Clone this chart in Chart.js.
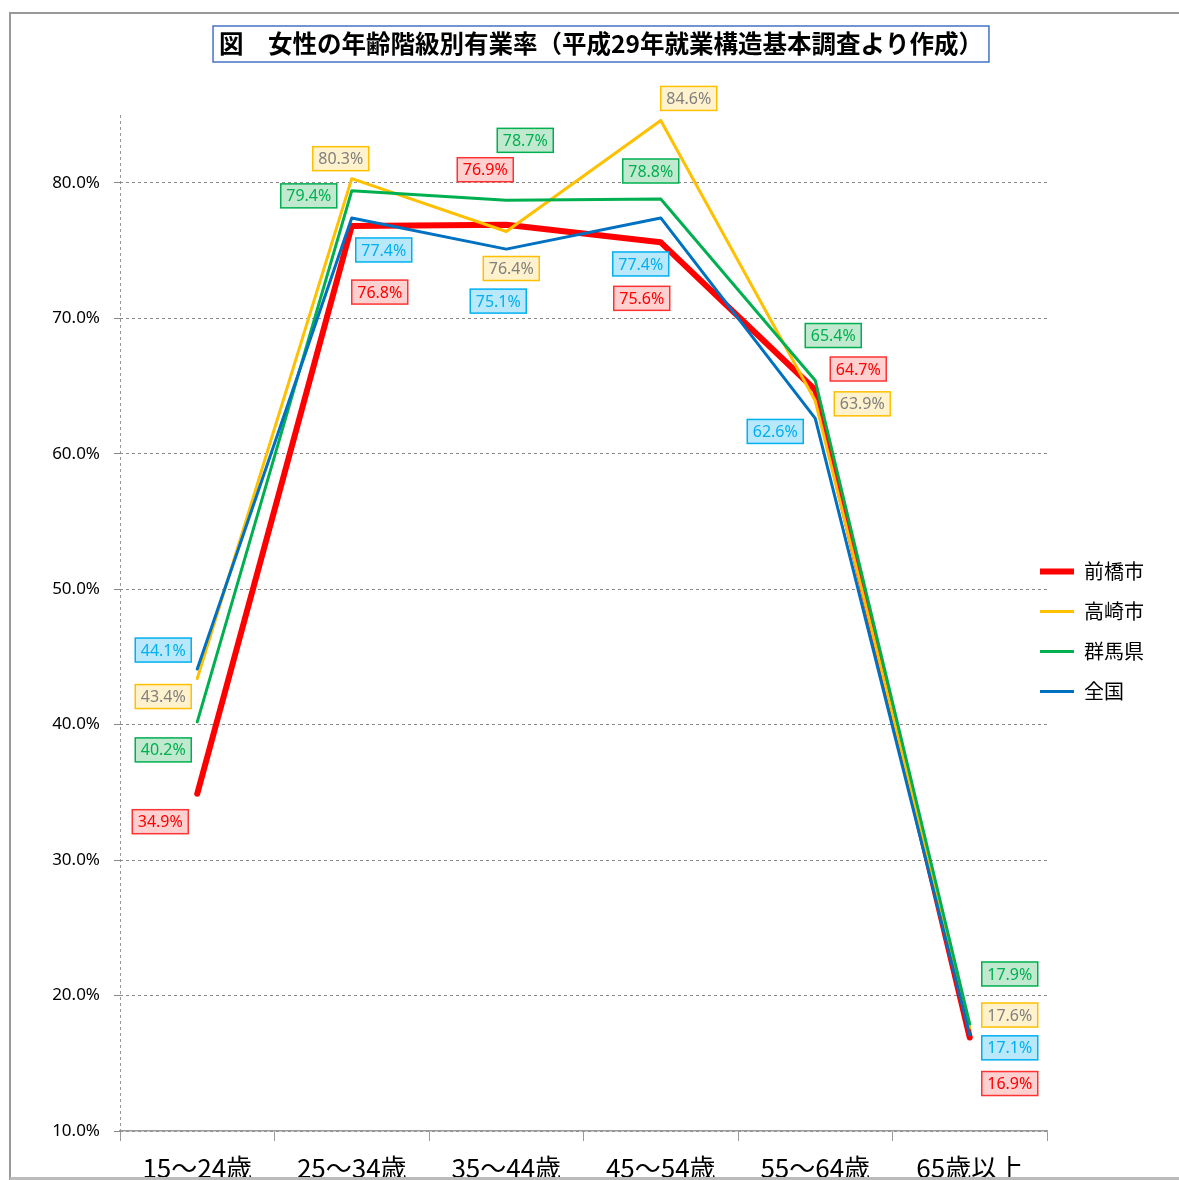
<!DOCTYPE html>
<html>
<head>
<meta charset="utf-8">
<script src="https://cdn.jsdelivr.net/npm/chart.js@4"></script>
<style>
  body { margin: 0; background: #fff; }
  canvas { display: block; }
</style>
</head>
<body>
<canvas id="chart" width="1179" height="1180"></canvas>
<script>
const categories = ['15～24歳', '25～34歳', '35～44歳', '45～54歳', '55～64歳', '65歳以上'];
const maebashi = [34.9, 76.8, 76.9, 75.6, 64.7, 16.9];
const takasaki = [43.4, 80.3, 76.4, 84.6, 63.9, 17.6];
const gunma    = [40.2, 79.4, 78.7, 78.8, 65.4, 17.9];
const zenkoku  = [44.1, 77.4, 75.1, 77.4, 62.6, 17.1];
const yTicks = [10, 20, 30, 40, 50, 60, 70, 80];
const titleText = '図　女性の年齢階級別有業率（平成29年就業構造基本調査より作成）';

const CJK = '"Noto Sans CJK JP", "Noto Sans", sans-serif';

// label box styles + where each box sits relative to its point (px)
const labelStyle = [
  { bg: '#FFD0D0', border: '#FF3333', text: '#FF0000',
    off: [[-37, 28], [28, 66], [-21, -55], [-19, 56], [43, -21], [40, 46]] },
  { bg: '#FFF2CC', border: '#FFC000', text: '#7F7F7F',
    off: [[-34, 18], [-11, -20], [5, 37], [28, -22], [47, 3], [40, -13]] },
  { bg: '#C0E9CF', border: '#00B050', text: '#00B050',
    off: [[-34, 28], [-43, 5], [19, -60], [-10, -28], [18, -45], [40, -50]] },
  { bg: '#B9E8FA', border: '#00B0F0', text: '#00B0F0',
    off: [[-34, -19], [32, 32], [-8, 52], [-20, 46], [-40, 13], [40, 13]] }
];

const framePlugin = {
  id: 'frame',
  beforeDraw(chart) {
    const ctx = chart.ctx;
    ctx.save();
    ctx.fillStyle = '#fff';
    ctx.fillRect(0, 0, chart.width, chart.height);
    ctx.strokeStyle = '#999';
    ctx.lineWidth = 2;
    ctx.beginPath();
    ctx.moveTo(10, chart.height);
    ctx.lineTo(10, 13);
    ctx.lineTo(chart.width, 13);
    ctx.stroke();
    // title box
    ctx.font = 'bold 24.5px ' + CJK;
    const tw = ctx.measureText(titleText).width;
    const cx = 601;
    ctx.strokeStyle = '#4472C4';
    ctx.lineWidth = 1.5;
    ctx.strokeRect(cx - tw / 2 - 6, 26, tw + 12, 36);
    ctx.fillStyle = '#000';
    ctx.textAlign = 'center';
    ctx.textBaseline = 'middle';
    ctx.fillText(titleText, cx, 44);
    ctx.restore();
  },
  afterLayout(chart) {
    const lg = chart.legend;
    const pad = lg.options.labels.padding;
    const shift = chart.chartArea.right - 7 - pad - lg.left;
    lg.left += shift; lg.right += shift;
    lg.top -= 16; lg.bottom -= 16;
  },
  afterDatasetsDraw(chart) {
    const ctx = chart.ctx;
    ctx.save();
    ctx.font = '16px "Noto Sans", sans-serif';
    ctx.textAlign = 'center';
    ctx.textBaseline = 'middle';
    chart.data.datasets.forEach((ds, di) => {
      const st = labelStyle[di];
      chart.getDatasetMeta(di).data.forEach((pt, i) => {
        const x = pt.x + st.off[i][0];
        const y = pt.y + st.off[i][1];
        ctx.fillStyle = st.bg;
        ctx.fillRect(x - 28, y - 12, 56, 24);
        ctx.strokeStyle = st.border;
        ctx.lineWidth = 1.5;
        ctx.strokeRect(x - 28, y - 12, 56, 24);
        ctx.fillStyle = st.text;
        ctx.fillText(ds.data[i].toFixed(1) + '%', x, y + 1);
      });
    });
    ctx.restore();
  },
  afterDraw(chart) {
    const ctx = chart.ctx;
    ctx.save();
    ctx.strokeStyle = '#bbb';
    ctx.lineWidth = 3;
    ctx.beginPath();
    ctx.moveTo(10, chart.height - 1.5);
    ctx.lineTo(chart.width, chart.height - 1.5);
    ctx.stroke();
    ctx.restore();
  }
};

function series(label, data, color, width, order) {
  return {
    label, data, order,
    borderColor: color,
    backgroundColor: color,
    borderWidth: width,
    borderCapStyle: 'round',
    borderJoinStyle: 'round',
    pointRadius: 0,
    tension: 0,
    fill: false
  };
}

new Chart(document.getElementById('chart'), {
  type: 'line',
  data: {
    labels: categories,
    datasets: [
      series('前橋市', maebashi, '#FF0000', 6, 4),
      series('高崎市', takasaki, '#FFC000', 3, 3),
      series('群馬県', gunma, '#00B050', 3, 2),
      series('全国', zenkoku, '#0070C0', 3, 1)
    ]
  },
  plugins: [framePlugin],
  options: {
    responsive: false,
    animation: false,
    layout: { padding: { top: 115, left: 0, right: 0, bottom: 0 } },
    plugins: {
      title: { display: false },
      tooltip: { enabled: false },
      legend: {
        position: 'right',
        maxWidth: 132,
        labels: {
          usePointStyle: true,
          pointStyle: 'line',
          pointStyleWidth: 34,
          padding: 20,
          color: '#000',
          font: { size: 20, family: CJK },
          sort: (a, b) => a.datasetIndex - b.datasetIndex
        }
      }
    },
    scales: {
      x: {
        type: 'category',
        offset: true,
        afterFit: s => { s.height = 49; },
        grid: {
          offset: true,
          drawOnChartArea: true,
          color: c => c.index === 0 ? '#999' : 'rgba(0,0,0,0)',
          tickColor: '#999',
          tickLength: 10,
          tickBorderDash: [],
          lineWidth: 1
        },
        border: { display: true, color: '#999', width: 1.5, dash: [3, 3] },
        ticks: {
          color: '#000',
          padding: 12,
          maxRotation: 0,
          font: { size: 26, family: CJK }
        }
      },
      y: {
        min: 10,
        max: 85,
        afterFit: s => { s.width = 120; },
        afterBuildTicks: s => { s.ticks = yTicks.map(v => ({ value: v })); },
        grid: {
          color: '#888',
          lineWidth: 1,
          tickLength: 6,
          tickColor: '#888',
          tickBorderDash: []
        },
        border: { display: false, dash: [3, 3] },
        ticks: {
          color: '#000',
          padding: 14,
          font: { size: 17, family: '"Noto Sans", sans-serif' },
          callback: v => v.toFixed(1) + '%'
        }
      }
    }
  }
});
</script>
</body>
</html>
